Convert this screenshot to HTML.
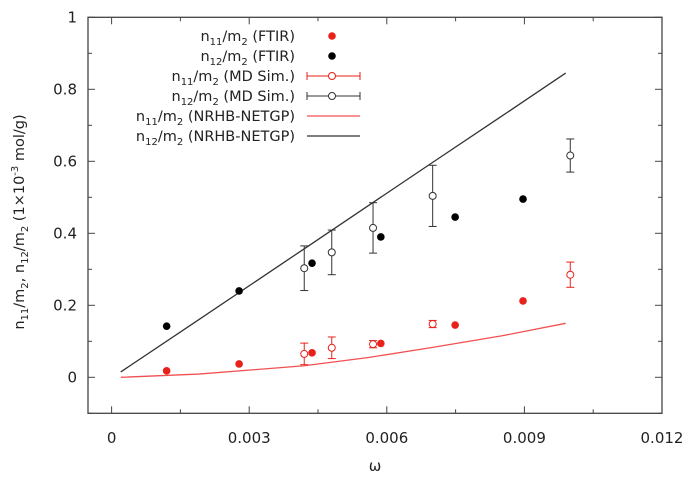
<!DOCTYPE html>
<html><head><meta charset="utf-8"><style>
body{margin:0;background:#fff;}
svg text{font-family:"DejaVu Sans","Liberation Sans",sans-serif;fill:#222;}
</style></head><body>
<svg id="chart" width="696" height="477" xmlns="http://www.w3.org/2000/svg"></svg>
<script>
const xTicks=[0,0.003,0.006,0.009,0.012];
const xTickLabels=["0","0.003","0.006","0.009","0.012"];
const yTicks=[0,0.2,0.4,0.6,0.8,1];
const yTickLabels=["0","0.2","0.4","0.6","0.8","1"];
const ftirX=[0.0012,0.00278,0.00437,0.00587,0.00749,0.00897];
const ftir11=[0.018,0.037,0.068,0.094,0.145,0.212];
const ftir12=[0.142,0.240,0.317,0.390,0.445,0.495];
const mdX=[0.0042,0.0048,0.0057,0.0070,0.0100];
const md11=[0.065,0.082,0.092,0.148,0.285];
const md11Err=[0.030,0.030,0.010,0.010,0.035];
const md12=[0.303,0.347,0.415,0.504,0.616];
const md12Err=[0.062,0.062,0.070,0.085,0.046];
const modelX=[0.0002,0.0019,0.0042,0.0056,0.0070,0.0085,0.0099];
const model11=[0.0,0.009,0.032,0.055,0.083,0.115,0.15];
const model12=[0.015,0.16,0.357,0.477,0.597,0.725,0.845];
const legendLabels=[["n","11","/m","2"," (FTIR)"],["n","12","/m","2"," (FTIR)"],["n","11","/m","2"," (MD Sim.)"],["n","12","/m","2"," (MD Sim.)"],["n","11","/m","2"," (NRHB-NETGP)"],["n","12","/m","2"," (NRHB-NETGP)"]];

const svg=document.getElementById('chart');
const NS='http://www.w3.org/2000/svg';
const L=88,R=662,T=17.3,B=413.3;
const xs=v=>111.6+v*(137.6/0.003);
const ys=v=>377.3-v*360;
const RED='#e8221a',RLINE='#f25050',BLK='#000',GRAY='#333';
function mk(t,a,p){const e=document.createElementNS(NS,t);for(const k in a)e.setAttribute(k,a[k]);(p||svg).appendChild(e);return e;}

const frame=mk('rect',{x:L,y:T,width:R-L,height:B-T,fill:'none',stroke:'#444','stroke-width':1.3});



xTicks.forEach((v,i)=>{
  const x=xs(v);
  const t=mk('line',{x1:x,x2:x,y1:B,y2:B-7,stroke:'#444'});
  
  
  mk('line',{x1:x,x2:x,y1:T,y2:T+7,stroke:'#444'});
  if(i<xTicks.length-1){const xm=xs(v+0.0015);mk('line',{x1:xm,x2:xm,y1:B,y2:B-4,stroke:'#444'});mk('line',{x1:xm,x2:xm,y1:T,y2:T+4,stroke:'#444'});}
  const tx=mk('text',{x:x,y:443,'text-anchor':'middle','font-size':15});
  tx.textContent=xTickLabels[i];
  
  
});
yTicks.forEach((v,i)=>{
  const y=ys(v);
  const t=mk('line',{x1:L,x2:L+7,y1:y,y2:y,stroke:'#444'});
  
  
  mk('line',{x1:R,x2:R-7,y1:y,y2:y,stroke:'#444'});
  const ym=ys(v-0.1);mk('line',{x1:L,x2:L+4,y1:ym,y2:ym,stroke:'#444'});mk('line',{x1:R,x2:R-4,y1:ym,y2:ym,stroke:'#444'});
  const tx=mk('text',{x:77,y:y+5,'text-anchor':'end','font-size':15});
  tx.textContent=yTickLabels[i];
  
  
});
const xt=mk('text',{x:375,y:471,'text-anchor':'middle','font-size':15});
xt.textContent='ω';


const yt=mk('text',{transform:'translate(24,222) rotate(-90)','text-anchor':'middle','font-size':14.5});
yt.innerHTML='n<tspan font-size="10" dy="4">11</tspan><tspan dy="-4">/m</tspan><tspan font-size="10" dy="4">2</tspan><tspan dy="-4">, n</tspan><tspan font-size="10" dy="4">12</tspan><tspan dy="-4">/m</tspan><tspan font-size="10" dy="4">2</tspan><tspan dy="-4"> (1×10</tspan><tspan font-size="10" dy="-6">-3</tspan><tspan dy="6"> mol/g)</tspan>';



function poly(arrY,col,name){
  const pts=modelX.map((x,i)=>xs(x)+','+ys(arrY[i])).join(' ');
  const p=mk('polyline',{points:pts,fill:'none',stroke:col,'stroke-width':1.3,'stroke-linejoin':'round'});
  
  
}
poly(model11,RLINE,'n11-model-line');
poly(model12,GRAY,'n12-model-line');

function md(arr,err,col,name){
  mdX.forEach((x,i)=>{
    const cx=xs(x),y=ys(arr[i]),y1=ys(arr[i]-err[i]),y2=ys(arr[i]+err[i]);
    const g=mk('g',{stroke:col,'stroke-width':1,fill:'none'});
    
    
    mk('line',{x1:cx,x2:cx,y1:y1,y2:y2},g);
    mk('line',{x1:cx-4,x2:cx+4,y1:y1,y2:y1},g);
    mk('line',{x1:cx-4,x2:cx+4,y1:y2,y2:y2},g);
    mk('circle',{cx:cx,cy:y,r:3.5,fill:'#fff'},g);
  });
}
md(md11,md11Err,RED,'n11-md-point');
md(md12,md12Err,'#333','n12-md-point');

function dots(arr,col,name){
  ftirX.forEach((x,i)=>{
    const c=mk('circle',{cx:xs(x),cy:ys(arr[i]),r:3.8,fill:col});
    
    
  });
}
dots(ftir11,RED,'n11-ftir-point');
dots(ftir12,BLK,'n12-ftir-point');

const rowsY=[36,56,76,96,116,136];
legendLabels.forEach((lb,i)=>{
  const y=rowsY[i];
  const t=mk('text',{x:295,y:y+5,'text-anchor':'end','font-size':14.5});
  t.innerHTML=lb[0]+'<tspan font-size="10" dy="4">'+lb[1]+'</tspan><tspan dy="-4">'+lb[2]+'</tspan><tspan font-size="10" dy="4">'+lb[3]+'</tspan><tspan dy="-4">'+lb[4]+'</tspan>';
  
  
  const cx=332;
  if(i<2){mk('circle',{cx:cx,cy:y,r:3.8,fill:i==0?RED:BLK});}
  else if(i<4){const col=i==2?RED:'#333';
    mk('line',{x1:307,x2:360,y1:y,y2:y,stroke:col});
    mk('line',{x1:307,x2:307,y1:y-4,y2:y+4,stroke:col});
    mk('line',{x1:360,x2:360,y1:y-4,y2:y+4,stroke:col});
    mk('circle',{cx:cx,cy:y,r:3.5,fill:'#fff',stroke:col});}
  else{mk('line',{x1:307,x2:360,y1:y,y2:y,stroke:i==4?RLINE:GRAY,'stroke-width':1.3});}
});
</script>
</body></html>
